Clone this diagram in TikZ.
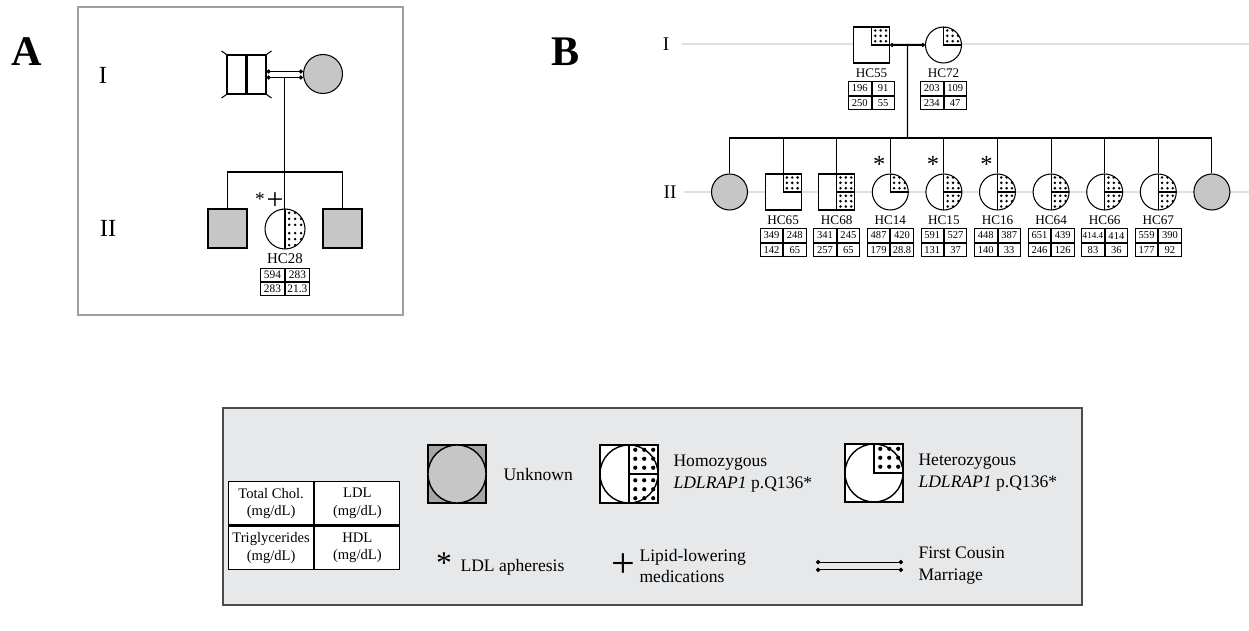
\documentclass[tikz,border=0pt]{standalone}
\usepackage{fontspec}
\setmainfont{Liberation Serif}
\usetikzlibrary{positioning,calc,arrows.meta}

\definecolor{affgray}{RGB}{198,198,198}
\definecolor{unkgray}{RGB}{166,166,166}
\definecolor{legbg}{RGB}{231,232,234}
\definecolor{framegray}{RGB}{160,160,160}
\definecolor{genline}{RGB}{224,224,224}

% dots of one quadrant, inside a path picture
\newcommand{\qdots}[2]{%
  \foreach \i in {1,2,3} \foreach \j in {1,2,3}
    \fill[black] ([shift={({#1*(\i-0.3)*\pgfkeysvalueof{/tikz/dotgap}},{#2*(\j-0.3)*\pgfkeysvalueof{/tikz/dotgap}})}]path picture bounding box.center) circle (\pgfkeysvalueof{/tikz/dotr});}

% lipid table under a label node
\newcommand{\labtab}[5]{%
  \node[cell, anchor=north east] (#1a) at ([yshift=-2pt]#1l.south) {#2};
  \node[cell, anchor=north west] (#1b) at ([yshift=-2pt]#1l.south) {#3};
  \node[cell, anchor=north] (#1c) at (#1a.south) {#4};
  \node[cell, anchor=north] (#1d) at (#1b.south) {#5};}

\tikzset{
  dotgap/.initial=3.06pt,
  dotr/.initial=0.8pt,
  hetz/.style={path picture={
      \draw (path picture bounding box.center) rectangle (path picture bounding box.north east);
      \qdots{1}{1}}},
  homz/.style={path picture={
      \draw (path picture bounding box.north) -- (path picture bounding box.south);
      \draw (path picture bounding box.center) -- (path picture bounding box.east);
      \qdots{1}{1}\qdots{1}{-1}}},
  homa/.style={path picture={
      \draw (path picture bounding box.north) -- (path picture bounding box.south);
      \qdots{1}{1}\qdots{1}{-1}}},
}

\begin{document}
\begin{tikzpicture}[x=0.02cm, y=-0.02cm, line width=0.6pt,
    male/.style={draw, rectangle, minimum size=0.72cm, inner sep=0pt, fill=white},
    female/.style={draw, circle, minimum size=0.72cm, inner sep=0pt, fill=white},
    unk/.style={fill=affgray},
    idlab/.style={inner sep=0pt, font=\fontsize{7.5}{8}\selectfont},
    cell/.style={draw, line width=0.5pt, minimum width=0.45cm, minimum height=0.27cm, inner sep=0pt, font=\fontsize{6}{6}\selectfont},
    gen/.style={inner sep=0pt, font=\fontsize{11}{11}\selectfont},
    panel/.style={inner sep=0pt, font=\fontsize{24}{24}\selectfont\bfseries},
    astk/.style={inner sep=0pt, font=\fontsize{14}{14}\selectfont},
    cousin/.style={{Circle[length=2.4pt]}-{Circle[length=2.4pt]}},
    legtxt/.style={anchor=west, inner sep=0pt, align=left, font=\fontsize{10}{12.5}\selectfont},
    legcell/.style={draw, fill=white, line width=0.7pt, inner sep=0pt, align=center, minimum width=1.7cm, minimum height=0.87cm, font=\fontsize{8.3}{9.8}\selectfont},
    legsym/.style={minimum size=1.16cm, line width=0.8pt}]
  \useasboundingbox (0,0) rectangle (1249,631);

  % Pannello A
  \node[panel] (pA) at (27,52) {A};
  \draw[framegray, line width=0.8pt] (78,7) rectangle (403,315);
  \node[gen, font=\fontsize{14}{14}\selectfont] (aI) at (103,75) {I};
  \node[gen, font=\fontsize{14}{14}\selectfont] (aII) at (108,228) {II};

  \node[male, minimum size=0.78cm] (ia) at (246.5,74.5) {};
  \node[female, unk, minimum size=0.78cm] (ib) at (323,74) {};
  \draw[line width=1.3pt] (ia.north) -- (ia.south);
  \draw (ia.north west) -- ++(-5,-3.5);
  \draw (ia.north east) -- ++(5,-3.5);
  \draw (ia.south west) -- ++(-5,3.5);
  \draw (ia.south east) -- ++(5,3.5);
  \draw[cousin] ([yshift=1.7pt]ia.east) -- ([yshift=1.7pt]ia.east -| ib.west);
  \draw[cousin] ([yshift=-1.7pt]ia.east) -- ([yshift=-1.7pt]ia.east -| ib.west);

  \node[male, unk, minimum size=0.78cm] (a21) at (227.5,228.5) {};
  \node[female, homa, dotgap=3.4pt, minimum size=0.8cm] (hc28) at (285,229) {};
  \node[male, unk, minimum size=0.78cm] (a23) at (342.5,228.5) {};
  \node[astk, font=\fontsize{11}{11}\selectfont] (hc28s) at (260,199) {*};
  \node[inner sep=0pt, font=\fontsize{17}{17}\selectfont] (hc28p) at (275,201) {+};

  \coordinate (amid) at ($(ia.east)!0.5!(ib.west)$);
  \coordinate (asib) at (285,172);
  \draw ([yshift=-1.7pt]amid) -- ([yshift=-1.7pt]amid |- hc28.north);
  \draw (a21.north) |- (asib) -| (a23.north);

  \node[idlab, font=\fontsize{8.5}{9}\selectfont, below=2pt of hc28] (hc28l) {HC28};
  \begin{scope}[cell/.append style={minimum width=0.48cm, minimum height=0.26cm, font=\fontsize{6.5}{6.5}\selectfont}]
    \labtab{hc28}{594}{283}{283}{21.3}
  \end{scope}

  % Pannello B
  \node[panel] (pB) at (566,52) {B};
  \node[gen] (bI) at (666,44) {I};
  \node[gen] (bII) at (670,192) {II};
  \draw[genline] ([xshift=7pt]bI.east) -- ++(570,0);
  \draw[genline] ([xshift=4pt]bII.east) -- ++(570,0);

  % Livello I
  \node[male, hetz] (hc55) at (871.5,45) {};
  \node[female, hetz] (hc72) at (943.5,45) {};
  \draw[cousin] (hc55.east) -- (hc72.west);

  % Livello II
  \node[female, unk] (b1) at (729.5,192) {};
  \node[male, hetz] (hc65) at (783.1,192) {};
  \node[male, homz] (hc68) at (836.7,192) {};
  \node[female, hetz] (hc14) at (890.3,192) {};
  \node[female, homz] (hc15) at (943.9,192) {};
  \node[female, homz] (hc16) at (997.5,192) {};
  \node[female, homz] (hc64) at (1051.1,192) {};
  \node[female, homz] (hc66) at (1104.7,192) {};
  \node[female, homz] (hc67) at (1158.3,192) {};
  \node[female, unk] (b10) at (1211.9,192) {};

  \node[astk] (hc14s) at ([shift={(-11,-28)}]hc14.center) {*};
  \node[astk] (hc15s) at ([shift={(-11,-28)}]hc15.center) {*};
  \node[astk] (hc16s) at ([shift={(-11,-28)}]hc16.center) {*};

  % Collegamenti
  \coordinate (bmid) at ($(hc55.east)!0.5!(hc72.west)$);
  \coordinate (bsib) at (907.5,138);
  \draw (bmid) -- (bsib);
  \draw (b1.north) |- (bsib) -| (b10.north);
  \foreach \n in {hc65,hc68,hc14,hc15,hc16,hc64,hc66,hc67}
    \draw (\n.north) -- (\n.north |- bsib);

  % Etichette e valori
  \foreach \n/\t in {hc55/HC55,hc72/HC72,hc65/HC65,hc68/HC68,hc14/HC14,hc15/HC15,hc16/HC16,hc64/HC64,hc66/HC66,hc67/HC67}
    \node[idlab, below=2.5pt of \n] (\n l) {\t};
  \labtab{hc55}{196}{91}{250}{55}
  \labtab{hc72}{203}{109}{234}{47}
  \labtab{hc65}{349}{248}{142}{65}
  \labtab{hc68}{341}{245}{257}{65}
  \labtab{hc14}{487}{420}{179}{28.8}
  \labtab{hc15}{591}{527}{131}{37}
  \labtab{hc16}{448}{387}{140}{33}
  \labtab{hc64}{651}{439}{246}{126}
  \labtab{hc66}{{\fontsize{5.2}{5}\selectfont 414.4}}{414}{83}{36}
  \labtab{hc67}{559}{390}{177}{92}

  % Legenda
  \draw[fill=legbg, draw=black!70, line width=0.8pt] (223,408) rectangle (1082,605);
  \node[legcell, anchor=north west] (ltc) at (228,481) {Total Chol.\\(mg/dL)};
  \node[legcell, anchor=north west] (lldl) at (ltc.north east) {LDL\\(mg/dL)};
  \node[legcell, anchor=north] (ltg) at (ltc.south) {Triglycerides\\(mg/dL)};
  \node[legcell, anchor=north] (lhdl) at (lldl.south) {HDL\\(mg/dL)};

  \node[male, legsym, fill=unkgray] (lunk) at (457,474) {};
  \node[female, legsym, unk] (lunkc) at (lunk) {};
  \node[legtxt] (lunkt) at (503,474) {Unknown};

  \node[male, legsym, homz, dotgap=5.1pt, dotr=1.2pt] (lhom) at (629,474) {};
  \node[draw, circle, legsym, inner sep=0pt] (lhomc) at (lhom) {};
  \node[legtxt] (lhomt) at (673,474) {Homozygous\\\textit{LDLRAP1} p.Q136*};

  \node[male, legsym, hetz, dotgap=5.1pt, dotr=1.2pt] (lhet) at (874,473) {};
  \node[draw, circle, legsym, inner sep=0pt] (lhetc) at (lhet) {};
  \node[legtxt] (lhett) at (918,473) {Heterozygous\\\textit{LDLRAP1} p.Q136*};

  \node[astk, font=\fontsize{18}{18}\selectfont] (lstar) at (444,563) {*};
  \node[legtxt] (lstart) at (460,567) {LDL apheresis};
  \node[inner sep=0pt, font=\fontsize{24}{24}\selectfont] (lplus) at (623,566) {+};
  \node[legtxt] (lplust) at (639,566) {Lipid-lowering\\medications};

  \coordinate (lcm1) at (816,566);
  \coordinate (lcm2) at (903,566);
  \draw[cousin] ([yshift=2.2pt]lcm1) -- ([yshift=2.2pt]lcm2);
  \draw[cousin] ([yshift=-2.2pt]lcm1) -- ([yshift=-2.2pt]lcm2);
  \node[legtxt] (lcmt) at (918,566) {First Cousin\\Marriage};
\end{tikzpicture}
\end{document}
